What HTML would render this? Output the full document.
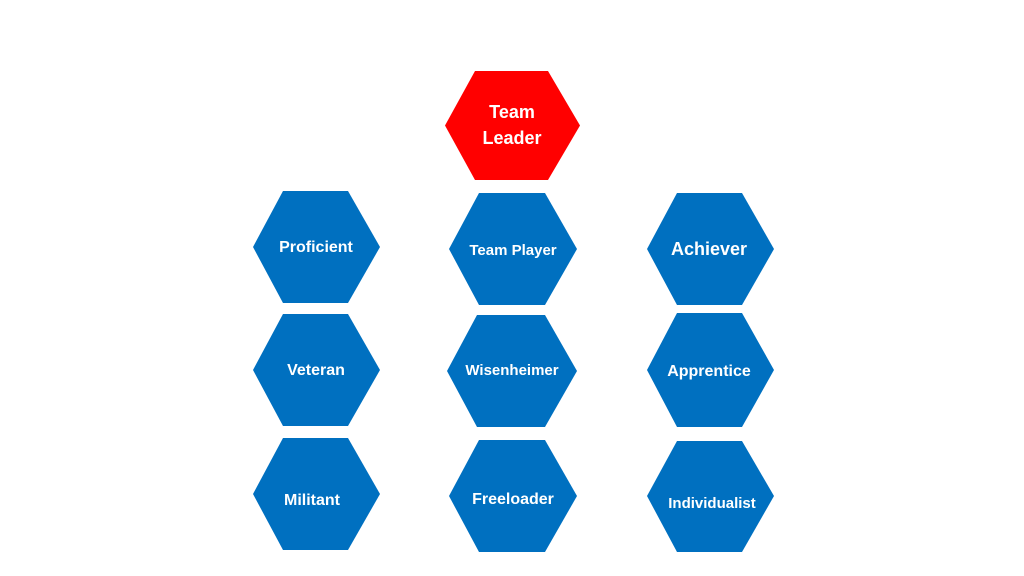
<!DOCTYPE html>
<html><head><style>body{margin:0;background:#fff}svg{display:block}text{font-family:"Liberation Sans",sans-serif;font-weight:bold;fill:#fff;text-anchor:middle}</style></head>
<body>
<svg width="1024" height="576" viewBox="0 0 1024 576">
<g id="h"></g>
<polygon fill="#FF0000" points="475,71 548,71 580,125.5 548,180 475,180 445,125.5"/>
<text x="512" y="118" font-size="18">Team</text><text x="512" y="144" font-size="18">Leader</text>
<g fill="#0070C0">
<polygon points="283,191 348,191 380,247 348,303 283,303 253,247"/>
<polygon points="283,314 348,314 380,370 348,426 283,426 253,370"/>
<polygon points="283,438 348,438 380,494 348,550 283,550 253,494"/>
<polygon points="479,193 545,193 577,249 545,305 479,305 449,249"/>
<polygon points="477,315 545,315 577,371 545,427 477,427 447,371"/>
<polygon points="479,440 545,440 577,496 545,552 479,552 449,496"/>
<polygon points="677,193 742,193 774,249 742,305 677,305 647,249"/>
<polygon points="677,313 742,313 774,370 742,427 677,427 647,370"/>
<polygon points="677,441 742,441 774,496 742,552 677,552 647,496"/>
</g>
<text x="316" y="252" font-size="16">Proficient</text>
<text x="316" y="375" font-size="16">Veteran</text>
<text x="312" y="505" font-size="16">Militant</text>
<text x="513" y="255" font-size="15">Team Player</text>
<text x="512" y="375" font-size="15">Wisenheimer</text>
<text x="513" y="504" font-size="16">Freeloader</text>
<text x="709" y="255" font-size="18">Achiever</text>
<text x="709" y="376" font-size="16">Apprentice</text>
<text x="712" y="508" font-size="15">Individualist</text>
</svg>
</body></html>
